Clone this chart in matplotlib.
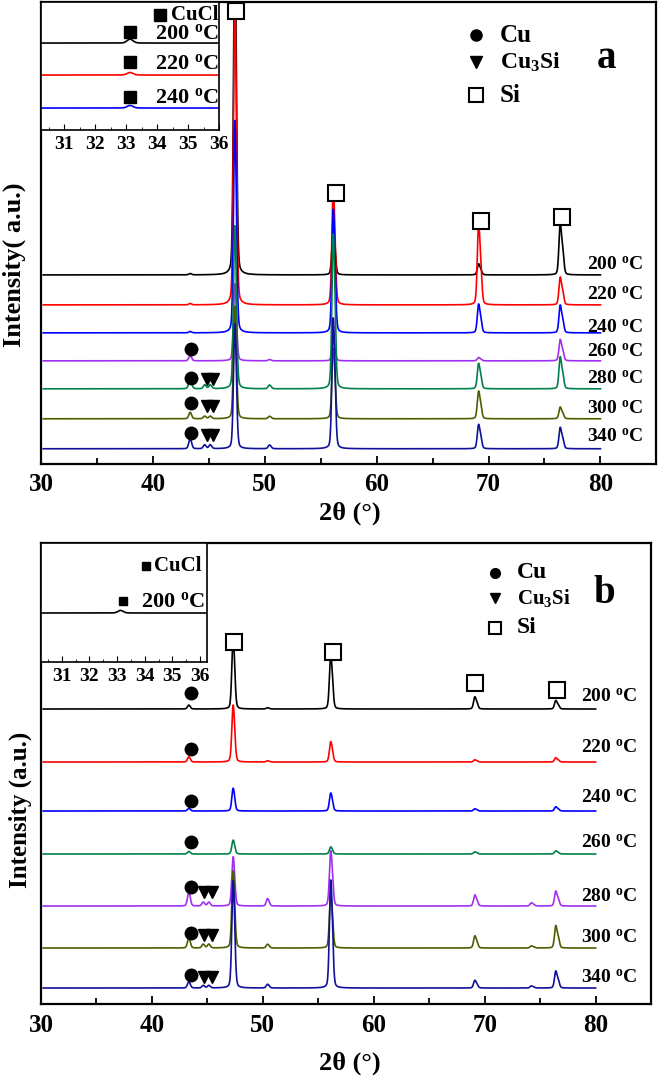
import numpy as np
import matplotlib
matplotlib.use("Agg")
import matplotlib.pyplot as plt

plt.rcParams['font.family'] = ['Liberation Serif', 'DejaVu Serif']
plt.rcParams['font.weight'] = 'bold'
plt.rcParams['mathtext.fontset'] = 'custom'
plt.rcParams['mathtext.rm'] = 'Liberation Serif:bold'
plt.rcParams['mathtext.bf'] = 'Liberation Serif:bold'
plt.rcParams['mathtext.it'] = 'Liberation Serif:bold'

# peak positions (2theta) : Cu, Cu3Si, Cu3Si, Si, Cu, Si, Si, ?, Si
peaks = [43.3, 44.6, 45.1, 47.3, 50.4, 56.1, 69.1, 74.2, 76.4]

temps = ['200', '220', '240', '260', '280', '300', '340']

# panel a: baseline offsets and peak heights (arbitrary units)
base_a = [189, 159, 131, 103, 75, 45, 15]
heights_a = [
    [1, 0, 0, 265, 0, 38, 10, 0, 49],
    [1, 0, 0, 242, 0, 97, 74, 0, 26],
    [1, 0, 0, 168, 0, 103, 26, 0, 26],
    [4, 0, 0, 61, 1, 18, 3, 0, 20],
    [9, 3, 3, 129, 3, 129, 23, 0, 30],
    [5, 2, 2, 89, 2, 59, 25, 0, 11],
    [8, 3, 3, 99, 3, 109, 22, 0, 20],
]
colors_a = ['black', '#ff0000', '#0000ff', '#a030f0', '#00804a', '#4a6000', '#10109a']

# panel b
base_b = [295, 242, 193, 150, 98, 56, 16]
heights_b = [
    [3, 0, 0, 56, 1, 45, 11, 0, 8],
    [4, 0, 0, 45, 1, 17, 2, 0, 4],
    [2, 0, 0, 18, 0, 15, 2, 0, 4],
    [2, 0, 0, 11, 0, 6, 2, 0, 3],
    [11, 3, 3, 39, 6, 46, 10, 3, 14],
    [8, 3, 3, 61, 3, 45, 11, 2, 21],
    [5, 2, 2, 85, 3, 90, 7, 2, 16],
]
colors_b = ['black', '#ff0000', '#0000ff', '#00804a', '#a030f0', '#4a6000', '#10109a']

# insets (CuCl peak at 33.1)
cucl_pos = 33.1
inset_temps_a = ['200', '220', '240']
inset_base_a = [87, 55, 22]
inset_height_a = [3, 2, 2]
inset_colors_a = ['black', '#ff0000', '#0000ff']
inset_base_b = [49]
inset_height_b = [2]


def pattern(x, pos, hts, w=0.13):
    y = np.zeros_like(x)
    for p, h in zip(pos, hts):
        if h == 0:
            continue
        # K-alpha2 shoulder
        d = 2 * np.tan(np.radians(p / 2)) * 0.0025 * 180 / np.pi
        for pp, hh in ((p, h), (p + d, h * 0.45)):
            u = (x - pp) / w
            y += hh * (0.25 / (1 + u ** 2) + 0.75 * np.exp(-np.log(2) * u ** 2))
    return y


def deg(t):
    return t + r' $^{\mathbf{o}}$C'


fig = plt.figure(figsize=(6.61, 10.81), dpi=100)
x = np.linspace(30.2, 80, 5000)


def main_axes(rect, base, heights, colors, ylim):
    ax = fig.add_axes(rect)
    for b, h, c in zip(base, heights, colors):
        ax.plot(x, b + pattern(x, peaks, h), color=c, lw=1.2)
    ax.set_xlim(30, 85)
    ax.set_ylim(0, ylim)
    ax.set_yticks([])
    ax.set_xticks([30, 40, 50, 60, 70, 80])
    ax.set_xticks([35, 45, 55, 65, 75], minor=True)
    ax.tick_params(axis='x', which='both', direction='in', labelsize=18, pad=7)
    ax.tick_params(axis='x', which='major', length=6, width=1.3)
    ax.tick_params(axis='x', which='minor', length=4, width=1.3)
    for s in ax.spines.values():
        s.set_linewidth(1.6)
    return ax


def inset_axes(rect, xmax, base, hts, colors, ylim):
    ax = fig.add_axes(rect)
    xs = np.linspace(30.25, xmax, 800)
    for b, h, c in zip(base, hts, colors):
        ax.plot(xs, b + pattern(xs, [cucl_pos], [h], w=0.1), color=c, lw=1.2)
    ax.set_xlim(30.25, xmax)
    ax.set_ylim(0, ylim)
    ax.set_yticks([])
    ax.set_xticks([31, 32, 33, 34, 35, 36])
    ax.set_xticks([30.5, 31.5, 32.5, 33.5, 34.5, 35.5], minor=True)
    ax.tick_params(axis='x', which='both', direction='in', labelsize=14, pad=4)
    ax.tick_params(axis='x', which='major', length=4)
    ax.tick_params(axis='x', which='minor', length=2)
    for s in ax.spines.values():
        s.set_linewidth(1.2)
    return ax


# ---------------- panel a ----------------
ax1 = main_axes([0.062, 0.571, 0.931, 0.427], base_a, heights_a, colors_a, 462)
for xp, yp in [(47.45, 453), (56.35, 271), (69.35, 243), (76.6, 247)]:
    ax1.plot(xp, yp, 's', mfc='white', mec='black', mew=1.5, ms=11)
for yp in [115, 86, 61, 31]:
    ax1.plot(43.4, yp, 'o', color='black', ms=9)
for yp in [85, 58, 29]:
    ax1.plot([44.85, 45.4], [yp, yp], 'v', color='black', ms=9, ls='none')
for t, yp in zip(temps, [199, 169, 136, 112, 85, 55, 27]):
    ax1.text(78.8, yp, deg(t), fontsize=14, fontweight='bold', va='center', ha='left')
ax1.plot(68.9, 429, 'o', color='black', ms=8)
ax1.plot(68.9, 402, 'v', color='black', ms=9)
ax1.plot(68.9, 369, 's', mfc='white', mec='black', mew=1.5, ms=10)
ax1.text(71.0, 429, 'Cu', fontsize=18, va='center')
ax1.text(71.0, 402, r'Cu$_\mathbf{3}$Si', fontsize=17, va='center')
ax1.text(71.0, 369, 'Si', fontsize=18, va='center')
ax1.text(80.5, 406, 'a', fontsize=28, ha='center', va='center')

in1 = inset_axes([0.062, 0.8797, 0.2693, 0.1184], 36.0, inset_base_a, inset_height_a, inset_colors_a, 128)
in1.plot(34.1, 115, 's', color='black', ms=8)
in1.text(35.98, 115, 'CuCl', fontsize=15, ha='right', va='center')
for t, yp, mp in zip(inset_temps_a, [96, 66, 32], [98, 68, 33]):
    in1.plot(33.12, mp, 's', color='black', ms=8)
    in1.text(35.98, yp, deg(t), fontsize=16, ha='right', va='center')

fig.text(0.021, 1 - 265 / 1081, 'Intensity( a.u.)', rotation=90, fontsize=19,
         ha='center', va='center')
fig.text(350 / 661, 1 - 513 / 1081, '2θ (°)', fontsize=19, ha='center', va='center')

# ---------------- panel b ----------------
ax2 = main_axes([0.062, 0.0712, 0.923, 0.4265], base_b, heights_b, colors_b, 461)
for xp, yp in [(47.36, 362), (56.3, 352), (69.15, 321), (76.5, 314)]:
    ax2.plot(xp, yp, 's', mfc='white', mec='black', mew=1.5, ms=11)
for yp in [311, 255, 203, 162, 117, 71, 29]:
    ax2.plot(43.5, yp, 'o', color='black', ms=9)
for yp in [112, 69, 27]:
    ax2.plot([44.7, 45.45], [yp, yp], 'v', color='black', ms=9, ls='none')
for t, yp in zip(temps, [307, 256, 206, 161, 107, 66, 26]):
    ax2.text(78.7, yp, deg(t), fontsize=14, fontweight='bold', va='center', ha='left')
ax2.plot(70.9, 431, 'o', color='black', ms=7)
ax2.plot(70.9, 406, 'v', color='black', ms=7)
ax2.plot(70.9, 376, 's', mfc='white', mec='black', mew=1.5, ms=9)
ax2.text(72.9, 431, 'Cu', fontsize=17, va='center')
ax2.text(72.9, 406, r'Cu$_\mathbf{3}$Si', fontsize=15, va='center')
ax2.text(72.9, 376, 'Si', fontsize=17, va='center')
ax2.text(80.8, 410, 'b', fontsize=28, ha='center', va='center')

in2 = inset_axes([0.062, 0.3876, 0.2511, 0.1101], 36.25, inset_base_b, inset_height_b, ['black'], 119)
in2.plot(34.04, 96, 's', color='black', ms=6)
in2.text(34.35, 96, 'CuCl', fontsize=15, ha='left', va='center')
in2.plot(33.2, 61, 's', color='black', ms=6)
in2.text(33.85, 60, deg('200'), fontsize=16, ha='left', va='center')

fig.text(0.030, 1 - 810 / 1081, 'Intensity (a.u.)', rotation=90, fontsize=18,
         ha='center', va='center')
fig.text(350 / 661, 1 - 1063 / 1081, '2θ (°)', fontsize=19, ha='center', va='center')

fig.savefig('out.png', dpi=100)
